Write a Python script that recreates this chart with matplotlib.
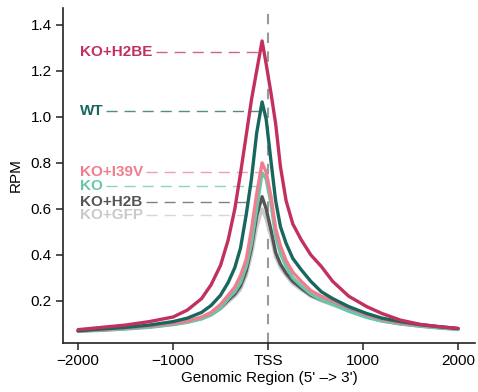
import numpy as np
import matplotlib
matplotlib.use("Agg")
import matplotlib.pyplot as plt

plt.rcParams['font.family'] = ['Liberation Sans', 'DejaVu Sans']

# Genomic positions relative to TSS
pos = [-2000, -1750, -1500, -1250, -1000, -850, -700, -600, -500, -420, -350, -290, -230, -175, -120, -63,
       -20, 30, 80, 130, 190, 260, 350, 450, 560, 680, 850, 1040, 1200, 1390, 1600, 1800, 2000]

ko_h2be = [0.075, 0.085, 0.095, 0.11, 0.13, 0.16, 0.21, 0.27, 0.355, 0.465, 0.60, 0.755, 0.92, 1.074, 1.20, 1.33,
           1.23, 1.105, 0.97, 0.784, 0.635, 0.535, 0.465, 0.40, 0.35, 0.285, 0.22, 0.175, 0.145, 0.117, 0.098, 0.088, 0.08]
wt = [0.07, 0.078, 0.085, 0.095, 0.11, 0.125, 0.15, 0.18, 0.225, 0.28, 0.345, 0.43, 0.575, 0.73, 0.93, 1.065,
      0.99, 0.81, 0.635, 0.523, 0.45, 0.385, 0.335, 0.285, 0.24, 0.21, 0.175, 0.145, 0.125, 0.11, 0.097, 0.088, 0.08]
ko_i39v = [0.07, 0.075, 0.082, 0.09, 0.102, 0.112, 0.13, 0.15, 0.185, 0.225, 0.26, 0.31, 0.38, 0.51, 0.665, 0.80,
           0.76, 0.655, 0.515, 0.44, 0.375, 0.325, 0.285, 0.245, 0.22, 0.20, 0.17, 0.139, 0.12, 0.104, 0.095, 0.087, 0.08]
ko = [0.068, 0.072, 0.078, 0.085, 0.097, 0.107, 0.122, 0.14, 0.17, 0.21, 0.24, 0.28, 0.35, 0.45, 0.60, 0.757,
      0.73, 0.625, 0.48, 0.405, 0.35, 0.30, 0.265, 0.23, 0.205, 0.185, 0.155, 0.128, 0.112, 0.10, 0.09, 0.082, 0.076]
ko_h2b = [0.07, 0.074, 0.08, 0.088, 0.10, 0.11, 0.125, 0.142, 0.17, 0.204, 0.23, 0.265, 0.33, 0.43, 0.57, 0.653,
          0.60, 0.51, 0.41, 0.36, 0.32, 0.285, 0.255, 0.225, 0.205, 0.188, 0.16, 0.132, 0.115, 0.102, 0.092, 0.085, 0.078]
ko_gfp = [0.07, 0.073, 0.079, 0.087, 0.098, 0.108, 0.122, 0.138, 0.165, 0.195, 0.22, 0.25, 0.31, 0.40, 0.52, 0.60,
          0.555, 0.48, 0.39, 0.345, 0.31, 0.275, 0.248, 0.22, 0.20, 0.183, 0.157, 0.13, 0.113, 0.10, 0.09, 0.083, 0.077]

names = ['KO+H2BE', 'WT', 'KO+I39V', 'KO', 'KO+H2B', 'KO+GFP']
series = [ko_h2be, wt, ko_i39v, ko, ko_h2b, ko_gfp]
colors = ['#C2305E', '#17675F', '#F07D8E', '#66C7AA', '#555555', '#C9C9C9']
label_y = [1.283, 1.027, 0.762, 0.700, 0.632, 0.574]

xticks = [-2000, -1000, 0, 1000, 2000]
xticklabels = ['\u22122000', '\u22121000', 'TSS', '1000', '2000']
yticks = [0.2, 0.4, 0.6, 0.8, 1.0, 1.2, 1.4]

fig = plt.figure(figsize=(4.78, 3.92), dpi=100)
ax = fig.add_axes([0.132, 0.125, 0.862, 0.855])

ax.axvline(0, color='#9a9a9a', lw=1.5, ls=(0, (5, 4)), zorder=1)

x = np.array(pos, dtype=float)
# draw from bottom to top
order = [5, 4, 3, 2, 1, 0]
for i in order:
    ax.plot(x, series[i], color=colors[i], lw=2.4, zorder=3 + (5 - i) * 0.1,
            solid_joinstyle='round', solid_capstyle='round')

# labels with dashed leaders
fig.canvas.draw()
for i, name in enumerate(names):
    y = np.array(series[i])
    k = int(np.argmax(y))
    xl = np.interp(label_y[i], y[:k + 1], x[:k + 1])
    t = ax.text(-1980, label_y[i], name, color=colors[i], fontsize=11, fontweight='bold',
                va='center', ha='left', zorder=5)
    fig.canvas.draw()
    bb = t.get_window_extent().transformed(ax.transData.inverted())
    ax.plot([bb.x1 + 25, xl], [label_y[i], label_y[i]], color=colors[i], lw=1.0,
            ls=(0, (8, 5)), alpha=0.75, zorder=2)

ax.set_xlim(-2158, 2180)
ax.set_ylim(0.017, 1.474)
ax.set_xticks(xticks)
ax.set_xticklabels(xticklabels)
ax.set_yticks(yticks)
ax.set_yticklabels([f'{v:.1f}' for v in yticks])
ax.tick_params(axis='both', labelsize=11, length=5, width=1.1, color='#222222', pad=3)
for s in ['top', 'right']:
    ax.spines[s].set_visible(False)
for s in ['left', 'bottom']:
    ax.spines[s].set_linewidth(1.2)
    ax.spines[s].set_color('#222222')

ax.set_xlabel("Genomic Region (5' \u2013> 3')", fontsize=11, labelpad=2)
ax.set_ylabel('RPM', fontsize=11, labelpad=6)

fig.savefig('out.png', dpi=100)
